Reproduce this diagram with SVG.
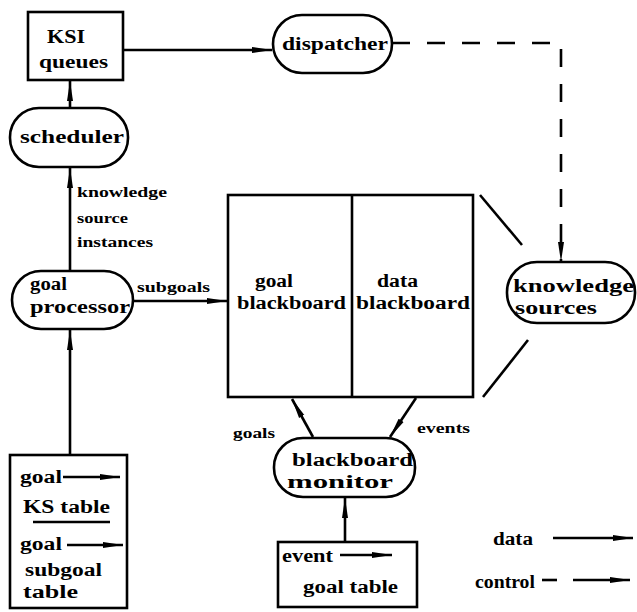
<svg xmlns="http://www.w3.org/2000/svg" width="637" height="612" viewBox="0 0 637 612">
  <style>
    .box { fill: #fff; stroke: #000; stroke-width: 2.6; }
    .ln { fill: none; stroke: #000; stroke-width: 2.6; }
    .dash { fill: none; stroke: #000; stroke-width: 2.6; stroke-dasharray: 18 17; }
    .t { font-family: "Liberation Serif", "Times New Roman", serif; font-size: 18px; font-weight: bold; fill: #000; }
    .s { font-family: "Liberation Serif", "Times New Roman", serif; font-size: 14px; font-weight: bold; fill: #000; }
  </style>
  <defs>
    <marker id="arr" viewBox="0 0 20 10" refX="20" refY="5" markerWidth="20" markerHeight="10" markerUnits="userSpaceOnUse" orient="auto">
      <path d="M0,2 L20,5 L0,8 Z" fill="#000"/>
    </marker>
  </defs>

  <g id="connectors">
    <!-- KSI queues to dispatcher -->
    <line class="ln" x1="123" y1="50" x2="272" y2="50" marker-end="url(#arr)"/>
    <!-- dispatcher to knowledge sources (control) -->
    <polyline class="dash" points="392,43 561,43 561,262" marker-end="url(#arr)"/>
    <!-- scheduler to KSI queues -->
    <line class="ln" x1="70" y1="108" x2="70" y2="81" marker-end="url(#arr)"/>
    <!-- goal processor to scheduler -->
    <line class="ln" x1="70" y1="271" x2="70" y2="168" marker-end="url(#arr)"/>
    <!-- subgoals -->
    <line class="ln" x1="133" y1="301" x2="227" y2="301" marker-end="url(#arr)"/>
    <!-- goal/KS table to goal processor -->
    <line class="ln" x1="70" y1="455" x2="70" y2="330" marker-end="url(#arr)"/>
    <!-- blackboard monitor to goal blackboard -->
    <line class="ln" x1="313" y1="437" x2="292" y2="399" marker-end="url(#arr)"/>
    <!-- data blackboard to blackboard monitor -->
    <line class="ln" x1="416" y1="398" x2="390" y2="437" marker-end="url(#arr)"/>
    <!-- event/goal table to blackboard monitor -->
    <line class="ln" x1="345" y1="542" x2="345" y2="498" marker-end="url(#arr)"/>
    <!-- knowledge sources access to blackboard -->
    <line class="ln" x1="480" y1="195" x2="522" y2="245"/>
    <line class="ln" x1="528" y1="340" x2="483" y2="397"/>
  </g>

  <g id="ksi-queues">
    <rect class="box" x="28" y="12" width="95" height="68"/>
    <text class="t" x="47" y="43" textLength="38" lengthAdjust="spacingAndGlyphs">KSI</text>
    <text class="t" x="39" y="68" textLength="69" lengthAdjust="spacingAndGlyphs">queues</text>
  </g>

  <g id="dispatcher">
    <rect class="box" x="273" y="15" width="119" height="58" rx="29"/>
    <text class="t" x="282" y="50" textLength="106" lengthAdjust="spacingAndGlyphs">dispatcher</text>
  </g>

  <g id="scheduler">
    <rect class="box" x="10" y="108" width="118" height="59" rx="29"/>
    <text class="t" x="20" y="143" textLength="104" lengthAdjust="spacingAndGlyphs">scheduler</text>
  </g>

  <g id="ksi-label">
    <text class="s" x="77" y="197" textLength="90" lengthAdjust="spacingAndGlyphs">knowledge</text>
    <text class="s" x="77" y="223" textLength="51" lengthAdjust="spacingAndGlyphs">source</text>
    <text class="s" x="77" y="247" textLength="76" lengthAdjust="spacingAndGlyphs">instances</text>
  </g>

  <g id="goal-processor">
    <rect class="box" x="12" y="271" width="121" height="58" rx="29"/>
    <text class="t" x="30" y="290" textLength="37" lengthAdjust="spacingAndGlyphs">goal</text>
    <text class="t" x="30" y="313" textLength="100" lengthAdjust="spacingAndGlyphs">processor</text>
  </g>

  <text class="s" x="137" y="292" textLength="73" lengthAdjust="spacingAndGlyphs">subgoals</text>

  <g id="blackboard">
    <rect class="box" x="228" y="195" width="245" height="202"/>
    <line class="ln" x1="352" y1="195" x2="352" y2="397"/>
    <text class="t" x="255" y="287" textLength="38" lengthAdjust="spacingAndGlyphs">goal</text>
    <text class="t" x="237" y="309" textLength="109" lengthAdjust="spacingAndGlyphs">blackboard</text>
    <text class="t" x="377" y="287" textLength="41" lengthAdjust="spacingAndGlyphs">data</text>
    <text class="t" x="356" y="309" textLength="114" lengthAdjust="spacingAndGlyphs">blackboard</text>
  </g>

  <g id="knowledge-sources">
    <rect class="box" x="507" y="262" width="128" height="61" rx="30"/>
    <text class="t" x="513" y="292" textLength="121" lengthAdjust="spacingAndGlyphs">knowledge</text>
    <text class="t" x="515" y="314" textLength="82" lengthAdjust="spacingAndGlyphs">sources</text>
  </g>

  <text class="s" x="233" y="438" textLength="42" lengthAdjust="spacingAndGlyphs">goals</text>
  <text class="s" x="417" y="433" textLength="53" lengthAdjust="spacingAndGlyphs">events</text>

  <g id="blackboard-monitor">
    <rect class="box" x="274" y="438" width="141" height="59" rx="29"/>
    <text class="t" x="292" y="466" textLength="121" lengthAdjust="spacingAndGlyphs">blackboard</text>
    <text class="t" x="287" y="488" textLength="106" lengthAdjust="spacingAndGlyphs">monitor</text>
  </g>

  <g id="goal-ks-table">
    <rect class="box" x="10" y="455" width="117" height="153"/>
    <text class="t" x="20" y="483" textLength="42" lengthAdjust="spacingAndGlyphs">goal</text>
    <line class="ln" x1="63" y1="477" x2="120" y2="477" marker-end="url(#arr)"/>
    <text class="t" x="23" y="513" textLength="87" lengthAdjust="spacingAndGlyphs">KS table</text>
    <line class="ln" x1="33" y1="522" x2="110" y2="522"/>
    <text class="t" x="20" y="550" textLength="42" lengthAdjust="spacingAndGlyphs">goal</text>
    <line class="ln" x1="67" y1="545" x2="123" y2="545" marker-end="url(#arr)"/>
    <text class="t" x="25" y="576" textLength="77" lengthAdjust="spacingAndGlyphs">subgoal</text>
    <text class="t" x="23" y="598" textLength="55" lengthAdjust="spacingAndGlyphs">table</text>
  </g>

  <g id="event-goal-table">
    <rect class="box" x="278" y="542" width="139" height="65"/>
    <text class="t" x="282" y="562" textLength="51" lengthAdjust="spacingAndGlyphs">event</text>
    <line class="ln" x1="340" y1="555" x2="392" y2="555" marker-end="url(#arr)"/>
    <text class="t" x="303" y="593" textLength="95" lengthAdjust="spacingAndGlyphs">goal table</text>
  </g>

  <g id="legend">
    <text class="t" x="493" y="545" textLength="40" lengthAdjust="spacingAndGlyphs">data</text>
    <line class="ln" x1="553" y1="538" x2="633" y2="538" marker-end="url(#arr)"/>
    <text class="t" x="475" y="588" textLength="60" lengthAdjust="spacingAndGlyphs">control</text>
    <line class="ln" x1="542" y1="580" x2="557" y2="580"/>
    <line class="ln" x1="573" y1="580" x2="630" y2="580" marker-end="url(#arr)"/>
  </g>
</svg>
